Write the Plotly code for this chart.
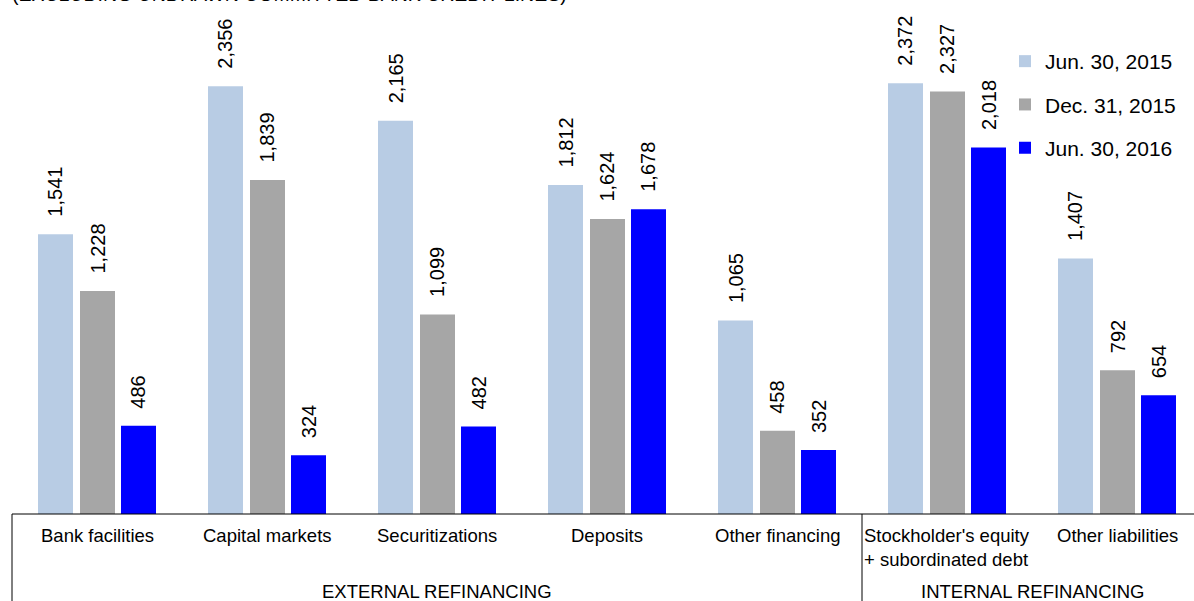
import plotly.graph_objects as go

categories = ["Bank facilities", "Capital markets", "Securitizations", "Deposits",
              "Other financing", "Stockholder's equity<br>+ subordinated debt", "Other liabilities"]
series_names = ["Jun. 30, 2015", "Dec. 31, 2015", "Jun. 30, 2016"]
jun2015 = [1541, 2356, 2165, 1812, 1065, 2372, 1407]
dec2015 = [1228, 1839, 1099, 1624, 458, 2327, 792]
jun2016 = [486, 324, 482, 1678, 352, 2018, 654]
groups = ["EXTERNAL REFINANCING", "INTERNAL REFINANCING"]
title_text = "(EXCLUDING UNDRAWN COMMITTED BANK CREDIT LINES)"

colors = ["#b8cce4", "#a6a6a6", "#0000ff"]
FONT = "Liberation Sans, Arial, sans-serif"

W, H = 1194, 601
ML, MB = 12, 87
plot_w = W - ML
plot_h = H - MB
slot = 170.0
bw = 35 / slot
offsets = [-59 / slot, -17 / slot, 24 / slot]

xs = list(range(len(categories)))
fig = go.Figure()
annotations = []
for name, vals, col, off in zip(series_names, [jun2015, dec2015, jun2016], colors, offsets):
    fig.add_trace(go.Bar(
        x=xs, y=vals, name=name, marker=dict(color=col, line=dict(width=0)),
        width=bw, offset=off, legendgroup=name, hoverinfo="skip",
    ))
    for i, v in enumerate(vals):
        annotations.append(dict(
            x=i + off + bw / 2, y=v, xref="x", yref="y", text=f"{v:,}",
            showarrow=False, textangle=-90, yanchor="bottom", xanchor="center",
            yshift=15, font=dict(family=FONT, size=20, color="#000000"),
        ))

# category labels
for i, c in enumerate(categories):
    annotations.append(dict(
        x=i, y=0, xref="x", yref="paper", text=c, showarrow=False,
        xanchor="center", yanchor="top", yshift=-9, align="left",
        font=dict(family=FONT, size=18.5, color="#000000"),
    ))
# group labels
for gx, g in zip([2.0, 5.5], groups):
    annotations.append(dict(
        x=gx, y=0, xref="x", yref="paper", text=g, showarrow=False,
        xanchor="center", yanchor="top", yshift=-65,
        font=dict(family=FONT, size=18.5, color="#000000"),
    ))
# clipped title at top
annotations.append(dict(
    x=-2 / plot_w, y=1, xref="paper", yref="paper", text=title_text, showarrow=False,
    xanchor="left", yanchor="bottom", yshift=-7,
    font=dict(family=FONT, size=19.5, color="#000000"),
))

xmax = -0.5 + plot_w / slot
shapes = [
    dict(type="line", xref="paper", yref="paper", x0=0, x1=1, y0=0, y1=0,
         line=dict(color="#000000", width=1)),
    dict(type="line", xref="paper", yref="paper", x0=0, x1=0, y0=0, y1=-MB / plot_h,
         line=dict(color="#000000", width=1)),
    dict(type="line", xref="x", yref="paper", x0=4.5, x1=4.5, y0=0, y1=-MB / plot_h,
         line=dict(color="#000000", width=1)),
]

fig.update_layout(
    width=W, height=H,
    margin=dict(l=ML, r=0, t=0, b=MB),
    paper_bgcolor="#ffffff", plot_bgcolor="#ffffff",
    barmode="overlay",
    xaxis=dict(range=[-0.5, xmax], showticklabels=False, showgrid=False,
               zeroline=False, showline=False, ticks=""),
    yaxis=dict(range=[0, plot_h / 0.1816], showticklabels=False, showgrid=False,
               zeroline=False, showline=False, ticks=""),
    legend=dict(x=(1005 - ML) / plot_w, xanchor="left", y=1 - 41 / plot_h, yanchor="top",
                font=dict(family=FONT, size=21, color="#000000"),
                tracegroupgap=13, traceorder="grouped", bgcolor="rgba(0,0,0,0)",
                itemclick=False),
    annotations=annotations,
    shapes=shapes,
    showlegend=True,
)

fig.write_html("out.html")
